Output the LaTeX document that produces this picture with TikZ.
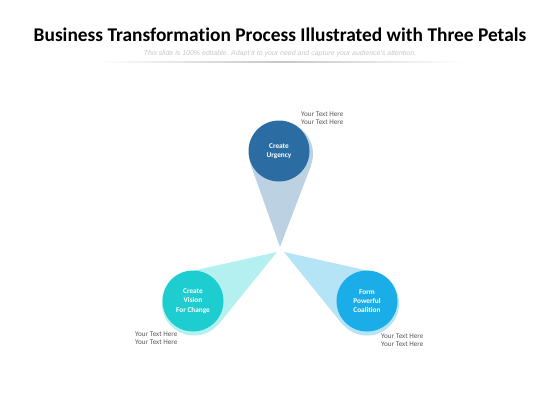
\documentclass[tikz,border=0pt]{standalone}
\usepackage{fontspec}
\setmainfont{Carlito}[Ligatures=NoCommon]
\newfontfamily\subfont{Liberation Sans}
\usetikzlibrary{calc}

\definecolor{urgencyblue}{HTML}{2B6CA3}
\definecolor{urgencypetal}{HTML}{BCD2E3}
\definecolor{visionteal}{HTML}{1DCDCF}
\definecolor{visionpetal}{HTML}{B5F0F0}
\definecolor{coalitionblue}{HTML}{1BADE8}
\definecolor{coalitionpetal}{HTML}{B5E4F7}
\definecolor{notegray}{HTML}{595959}

\tikzset{
  stepcircle/.style={circle, inner sep=0pt, minimum size=61pt, text=white,
    align=center, font=\fontsize{7.3}{9.3}\selectfont\bfseries},
  petalcircle/.style={circle, inner sep=0pt, minimum size=64pt},
  yourtext/.style={anchor=north west, inner sep=0pt, align=left, text=notegray,
    font=\fontsize{7.2}{8}\selectfont}
}

\begin{document}
\begin{tikzpicture}[x=1pt, y=-1pt]

\useasboundingbox (0,0) rectangle (560,420);

% draw title and subtitle
\node[font=\fontsize{19.4}{22}\selectfont\bfseries] (title) at (280,35)
  {Business Transformation Process Illustrated with Three Petals};
\node[font=\subfont\itshape\fontsize{7}{8}\selectfont, text=black!22] (subtitle) at (280,54)
  {This slide is 100\% editable. Adapt it to your need and capture your audience's attention.};
\shade[left color=white, right color=white, middle color=black!22] (95,61.2) rectangle (465,62.6);

% draw petal tips
\coordinate (tipurgency) at (280,247);
\coordinate (tipvision) at (277,252);
\coordinate (tipcoalition) at (284,252);

% draw petals
\node[petalcircle, fill=urgencypetal] (urgencypetal) at (281,154) {};
\fill[urgencypetal] (tipurgency) -- (tangent cs:node=urgencypetal,point={(tipurgency)},solution=1)
  -- (urgencypetal.center) -- (tangent cs:node=urgencypetal,point={(tipurgency)},solution=2) -- cycle;

\node[petalcircle, fill=visionpetal] (visionpetal) at (194,303.5) {};
\fill[visionpetal] (tipvision) -- (tangent cs:node=visionpetal,point={(tipvision)},solution=1)
  -- (visionpetal.center) -- (tangent cs:node=visionpetal,point={(tipvision)},solution=2) -- cycle;

\node[petalcircle, fill=coalitionpetal] (coalitionpetal) at (367,303.5) {};
\fill[coalitionpetal] (tipcoalition) -- (tangent cs:node=coalitionpetal,point={(tipcoalition)},solution=1)
  -- (coalitionpetal.center) -- (tangent cs:node=coalitionpetal,point={(tipcoalition)},solution=2) -- cycle;

% draw circles
\node[stepcircle, fill=urgencyblue] (urgency) at (279,151) {Create\\Urgency};
\node[stepcircle, fill=visionteal] (vision) at (193,301) {Create\\Vision\\For Change};
\node[stepcircle, fill=coalitionblue] (coalition) at (367,301) {Form\\Powerful\\Coalition};

% draw labels
\node[yourtext] (urgencytext) at (301,112) {Your Text Here\\Your Text Here};
\node[yourtext] (visiontext) at (135,332) {Your Text Here\\Your Text Here};
\node[yourtext] (coalitiontext) at (381,334) {Your Text Here\\Your Text Here};

\end{tikzpicture}
\end{document}
